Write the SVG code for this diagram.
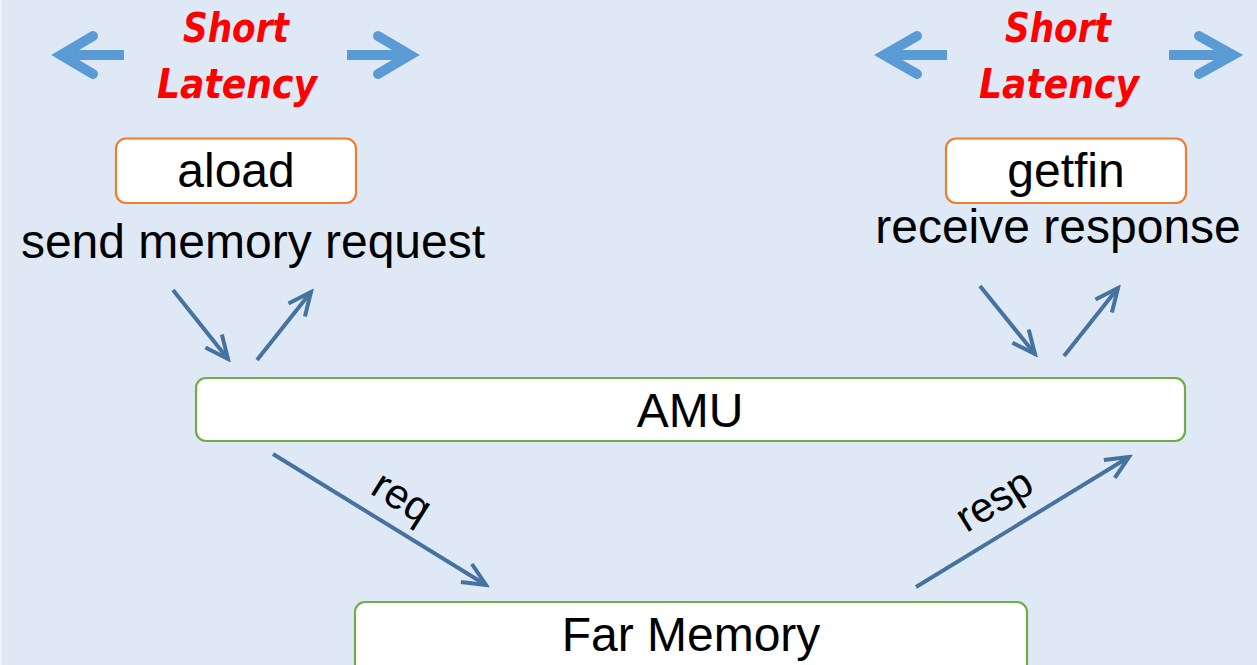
<svg xmlns="http://www.w3.org/2000/svg" width="1257" height="665" viewBox="0 0 1257 665">
<defs>
<style>
.bg{fill:#dee9f5}
.lat{font-family:"DejaVu Sans Condensed","DejaVu Sans",sans-serif;font-weight:bold;font-style:italic;font-size:40px;fill:#ff0000;text-anchor:middle}
.big{fill:none;stroke:#5b9bd5;stroke-width:10;stroke-linecap:round;stroke-linejoin:miter}
.bigshaft{fill:none;stroke:#5b9bd5;stroke-width:10;stroke-linecap:butt}
.obox{fill:#ffffff;stroke:#ed7d31;stroke-width:2.2}
.gbox{fill:#ffffff;stroke:#70ad47;stroke-width:2.2}
.t{font-family:"Liberation Sans",Arial,sans-serif;font-size:48px;fill:#000000;text-anchor:middle}
.lbl{font-family:"Liberation Sans",Arial,sans-serif;font-size:42px;fill:#000000;text-anchor:middle}
.conn{fill:none;stroke:#4672a0;stroke-width:4;marker-end:url(#ah)}
</style>
<marker id="ah" markerUnits="userSpaceOnUse" viewBox="-30 -15 34 30" refX="0" refY="0" markerWidth="34" markerHeight="30" orient="auto">
<path d="M-23,-10.5 L0,0 L-23,10.5" fill="none" stroke="#4672a0" stroke-width="4" stroke-linecap="butt" stroke-linejoin="miter"/>
</marker>
</defs>
<rect class="bg" x="0" y="0" width="1257" height="665"/>
<line x1="1" y1="0" x2="1" y2="665" stroke="#eef3fa" stroke-width="2"/>

<g id="latency-left">
<line class="bigshaft" x1="124" y1="55" x2="64" y2="55"/>
<polyline class="big" points="93,36 61,55 93,74"/>
<line class="bigshaft" x1="347" y1="55" x2="407" y2="55"/>
<polyline class="big" points="378,36 410,55 378,74"/>
<text class="lat" x="236" y="42" textLength="106" lengthAdjust="spacingAndGlyphs">Short</text>
<text class="lat" x="237" y="98" textLength="160" lengthAdjust="spacingAndGlyphs">Latency</text>
</g>

<g id="latency-right">
<line class="bigshaft" x1="947" y1="55" x2="887" y2="55"/>
<polyline class="big" points="917,36 884,55 917,74"/>
<line class="bigshaft" x1="1169" y1="55" x2="1230" y2="55"/>
<polyline class="big" points="1199,36 1233,55 1199,74"/>
<text class="lat" x="1058" y="42" textLength="106" lengthAdjust="spacingAndGlyphs">Short</text>
<text class="lat" x="1059" y="98" textLength="160" lengthAdjust="spacingAndGlyphs">Latency</text>
</g>

<g id="aload">
<rect class="obox" x="116" y="138.5" width="240" height="64.5" rx="10"/>
<text class="t" x="236" y="187">aload</text>
</g>
<text class="t" x="253" y="258">send memory request</text>

<g id="getfin">
<rect class="obox" x="946" y="138.5" width="240" height="64.5" rx="10"/>
<text class="t" x="1066" y="187">getfin</text>
</g>
<text class="t" x="1058" y="243">receive response</text>

<g id="amu">
<rect class="gbox" x="196" y="378" width="989" height="63" rx="10"/>
<text class="t" x="690" y="427">AMU</text>
</g>

<g id="far-memory">
<rect class="gbox" x="355" y="602" width="672" height="80" rx="10"/>
<text class="t" x="691" y="651">Far Memory</text>
</g>

<g id="connectors">
<line class="conn" x1="173" y1="290" x2="228" y2="359"/>
<line class="conn" x1="257" y1="360" x2="311" y2="292"/>
<line class="conn" x1="980" y1="286" x2="1035" y2="354"/>
<line class="conn" x1="1064" y1="356" x2="1118" y2="288"/>
<line class="conn" x1="273" y1="454" x2="486" y2="585"/>
<line class="conn" x1="916" y1="587" x2="1129" y2="457"/>
<text class="lbl" transform="translate(402,497) rotate(32)" x="0" y="14">req</text>
<text class="lbl" transform="translate(994,500) rotate(-31.5)" x="0" y="14">resp</text>
</g>
</svg>
